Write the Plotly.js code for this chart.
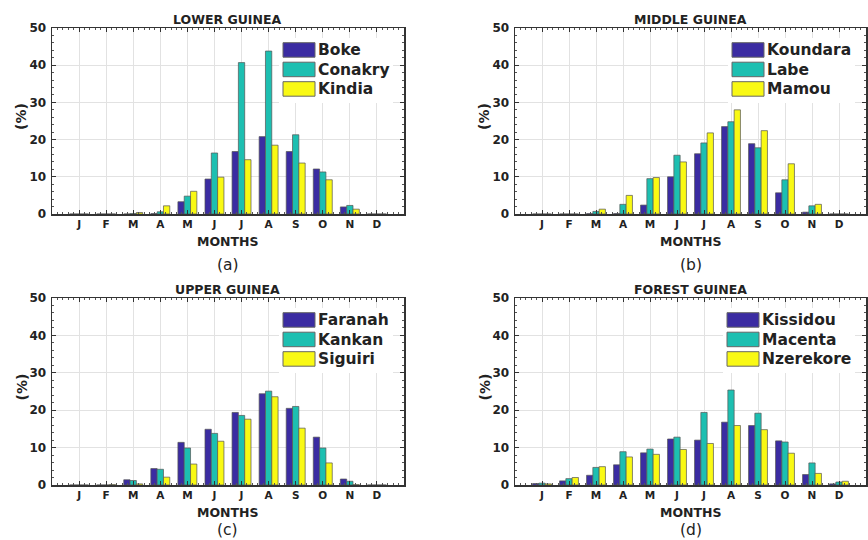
<!DOCTYPE html>
<html><head><meta charset="utf-8">
<script src="https://cdn.plot.ly/plotly-3.0.1.min.js"></script>
<style>html,body{margin:0;padding:0;background:#fff}#chart{width:868px;height:540px}</style>
</head><body><div id="chart"></div>
<script>
const months = ['J','F','M','A','M','J','J','A','S','O','N','D'];

const panelTitles = ['LOWER GUINEA','MIDDLE GUINEA','UPPER GUINEA','FOREST GUINEA'];
const panelLabels = ['(a)','(b)','(c)','(d)'];

const lowerNames = ['Boke','Conakry','Kindia'];
const boke    = [0,0,0,0.1,3.3,9.4,16.8,20.8,16.8,12.1,1.9,0];
const conakry = [0,0,0.1,0.6,4.8,16.4,40.7,43.8,21.3,11.3,2.3,0];
const kindia  = [0,0,0.4,2.2,6.1,9.9,14.6,18.5,13.7,9.2,1.3,0];

const middleNames = ['Koundara','Labe','Mamou'];
const koundara = [0,0,0.1,0.1,2.4,10.0,16.2,23.5,18.9,5.7,0.5,0];
const labe     = [0,0,0.7,2.6,9.5,15.8,19.1,24.8,17.8,9.2,2.2,0];
const mamou    = [0,0,1.3,5.0,9.8,14.0,21.8,28.0,22.4,13.5,2.6,0];

const upperNames = ['Faranah','Kankan','Siguiri'];
const faranah = [0,0,1.4,4.4,11.4,14.9,19.4,24.4,20.5,12.8,1.6,0];
const kankan  = [0,0,1.2,4.2,9.9,13.8,18.6,25.1,21.0,9.9,1.0,0];
const siguiri = [0,0.1,0.3,2.1,5.6,11.7,17.6,23.6,15.2,5.9,0.1,0];

const forestNames = ['Kissidou','Macenta','Nzerekore'];
const kissidou  = [0.4,1.1,2.6,5.4,8.6,12.3,12.0,16.8,15.9,11.8,2.8,0.3];
const macenta   = [0.5,1.7,4.7,8.9,9.6,12.8,19.4,25.4,19.2,11.5,5.9,0.8];
const nzerekore = [0.3,2.0,4.9,7.5,8.2,9.5,11.1,15.9,14.8,8.5,3.1,1.0];

const colors = ['#3b2ca2','#1dbfb1','#f9f914'];
const FONT = 'DejaVu Sans';
const TXT = '#222';

const panels = [
  {names: lowerNames,  series: [boke, conakry, kindia]},
  {names: middleNames, series: [koundara, labe, mamou]},
  {names: upperNames,  series: [faranah, kankan, siguiri]},
  {names: forestNames, series: [kissidou, macenta, nzerekore]}
];

const W = 868, H = 540;
// pixel boxes of plot areas [left, right, top, bottom]
const boxes = [[52,404,28,214],[515,866,28,214],[52,404,298,485],[515,866,298,485]];
const legendLeftPx = [283,732,283,727];

const xIdx = months.map((m,i)=>i+1);
const traces = [];
const layout = {
  width: W, height: H, margin: {l:0,r:0,t:0,b:0},
  paper_bgcolor:'#fff', plot_bgcolor:'#fff',
  barmode:'group', bargap:0.3, bargroupgap:0,
  showlegend:false, font:{family:FONT, color:TXT},
  annotations: [], shapes: []
};

panels.forEach((p, k) => {
  const n = k===0 ? '' : String(k+1);
  const b = boxes[k];
  p.series.forEach((s, j) => {
    traces.push({type:'bar', x:xIdx, y:s, name:p.names[j],
      xaxis:'x'+n, yaxis:'y'+n,
      marker:{color:colors[j], line:{color:'#555', width:0.7}},
      hoverinfo:'y+name'});
  });
  const common = {linecolor:'#333', linewidth:1.5, mirror:'allticks', showline:true,
    ticks:'inside', tickcolor:'#333', ticklen:4, gridcolor:'#e2e2e2', gridwidth:1,
    zeroline:false, fixedrange:true};
  layout['xaxis'+n] = Object.assign({}, common, {
    domain:[b[0]/W, b[1]/W], anchor:'y'+n, range:[0,13],
    tickmode:'array', tickvals:xIdx, ticktext:months,
    tickfont:{family:FONT, size:10.5, color:TXT, weight:'bold'},
    minor:{tickmode:'linear', tick0:0, dtick:0.2, ticks:'inside', ticklen:2, tickcolor:'#555', showgrid:false}
  });
  layout['yaxis'+n] = Object.assign({}, common, {
    domain:[1-b[3]/H, 1-b[2]/H], anchor:'x'+n, range:[0,50],
    tickmode:'linear', tick0:0, dtick:10, ticklabelstandoff:2,
    tickfont:{family:FONT, size:12, color:TXT, weight:'bold'},
    minor:{tickmode:'linear', tick0:0, dtick:2, ticks:'inside', ticklen:2, tickcolor:'#555', showgrid:false}
  });
  const cx = (b[0]+b[1])/2/W;
  layout.annotations.push(
    {text:panelTitles[k], xref:'paper', yref:'paper', x:cx, y:1-(b[2]-9)/H, showarrow:false,
     xanchor:'center', yanchor:'middle', font:{family:FONT, size:12.5, color:TXT, weight:'bold'}},
    {text:'MONTHS', xref:'paper', yref:'paper', x:cx, y:1-(b[3]+27)/H, showarrow:false,
     xanchor:'center', yanchor:'middle', font:{family:FONT, size:12.5, color:TXT, weight:'bold'}},
    {text:panelLabels[k], xref:'paper', yref:'paper', x:cx, y:1-(b[3]+ (k<2?51:45))/H, showarrow:false,
     xanchor:'center', yanchor:'middle', font:{family:FONT, size:15.5, color:TXT}},
    {text:'(%)', xref:'paper', yref:'paper', x:(b[0]-31)/W, y:1-((b[2]+b[3])/2-4)/H, showarrow:false,
     textangle:-90, xanchor:'center', yanchor:'middle', font:{family:FONT, size:14, color:TXT, weight:'bold'}}
  );
  // legend (drawn in paper coordinates)
  const lx = legendLeftPx[k];
  layout.shapes.push({type:'rect', xref:'paper', yref:'paper', layer:'above',
    x0:(lx-4)/W, x1:(b[1]-11)/W, y0:1-(b[2]+75)/H, y1:1-(b[2]+10)/H,
    fillcolor:'#fff', line:{width:0}});
  p.names.forEach((nm, j) => {
    const top = b[2] + 14.7 + 19.5*j, bot = top + 14.5;
    layout.shapes.push({type:'rect', xref:'paper', yref:'paper', layer:'above',
      x0:lx/W, x1:(lx+32)/W, y0:1-bot/H, y1:1-top/H,
      fillcolor:colors[j], line:{color:'#666', width:1}});
    layout.annotations.push({text:nm, xref:'paper', yref:'paper', x:(lx+33)/W, y:1-(top+7.5)/H,
      showarrow:false, xanchor:'left', yanchor:'middle',
      font:{family:FONT, size:15.5, color:TXT, weight:'bold'}});
  });
});

Plotly.newPlot('chart', traces, layout, {displayModeBar:false, staticPlot:true});
</script></body></html>
